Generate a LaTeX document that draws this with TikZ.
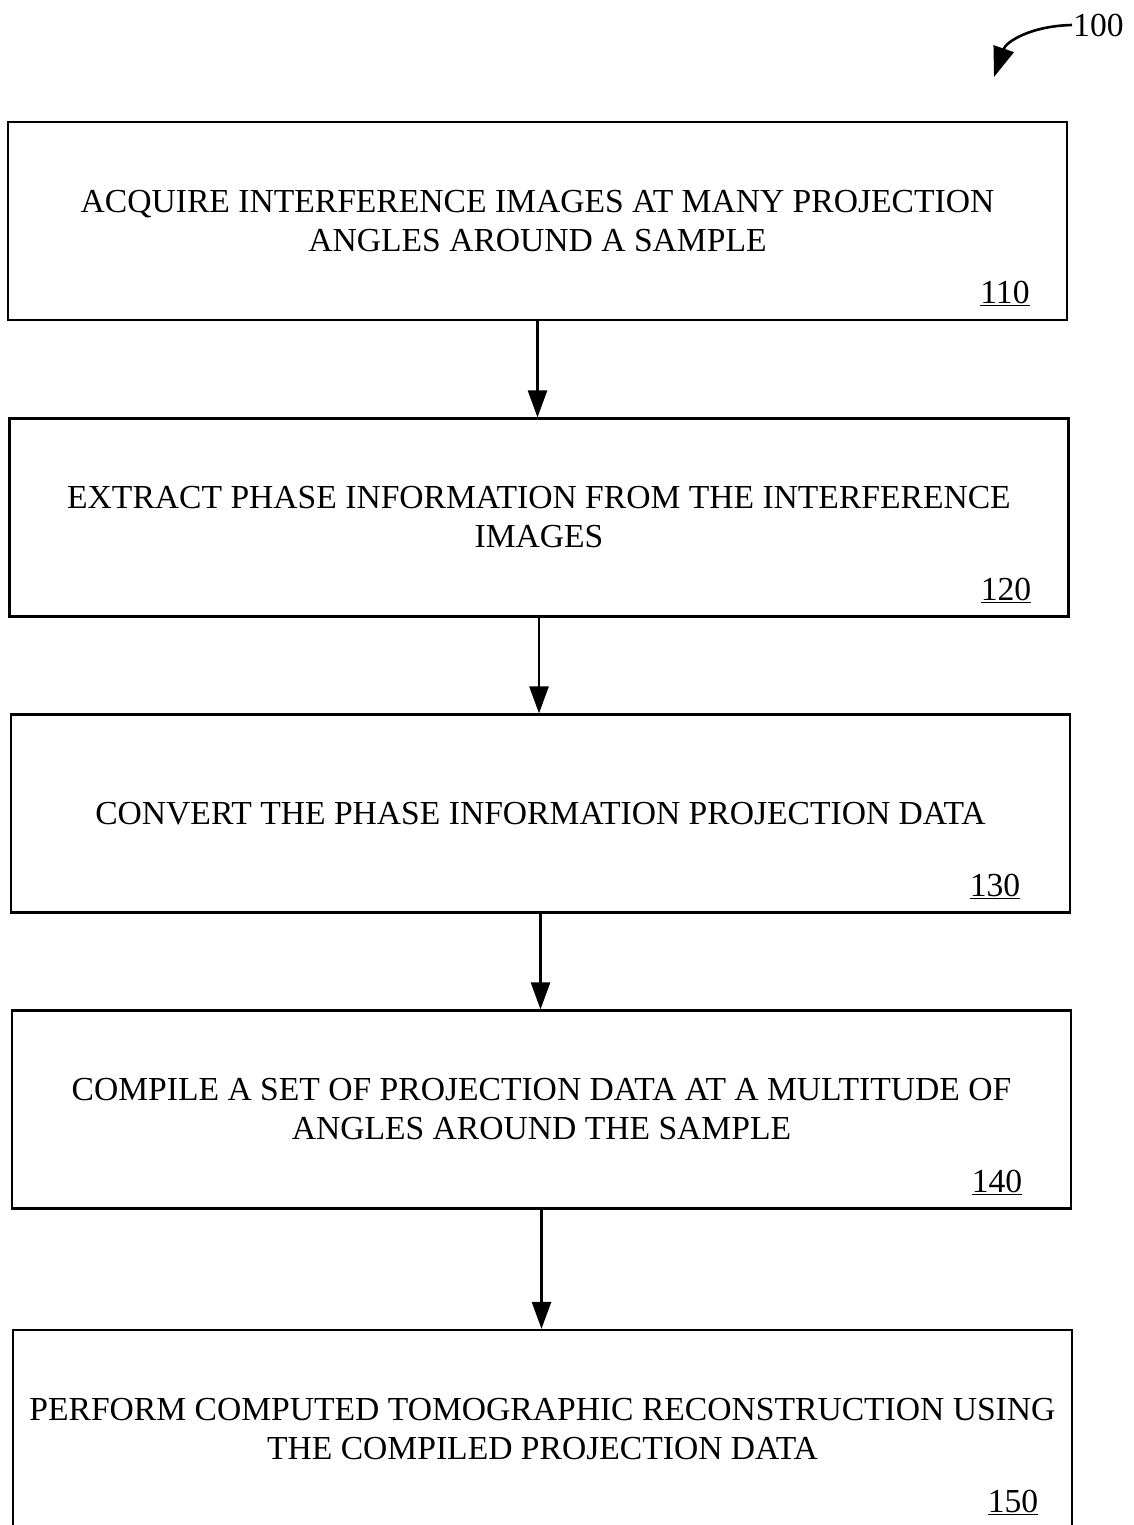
\documentclass[tikz,border=0pt]{standalone}
\usepackage{fontspec}
\setmainfont{Liberation Serif}
\usetikzlibrary{arrows.meta}
\begin{document}
\begin{tikzpicture}[
  x=1pt, y=-1pt,
  stepbox/.style={draw, line width=2.2pt, minimum width=1059pt, minimum height=198pt,
    inner sep=0pt, align=center, font=\fontsize{33.6}{39}\selectfont},
  refnum/.style={font=\fontsize{33.6}{39}\selectfont, inner sep=1pt},
  flow/.style={line width=2.6pt, -{Triangle[width=19pt,length=27pt]}}
]
  \useasboundingbox (0,0) rectangle (1134,1525);
  \clip (0,0) rectangle (1134,1525);

  \node[stepbox] (s110) at (537.5, 221) {ACQUIRE INTERFERENCE IMAGES AT MANY PROJECTION\\ANGLES AROUND A SAMPLE};
  \node[stepbox] (s120) at (539, 517.5) {EXTRACT PHASE INFORMATION FROM THE INTERFERENCE\\IMAGES};
  \node[stepbox] (s130) at (540.5, 813.5) {CONVERT THE PHASE INFORMATION PROJECTION DATA};
  \node[stepbox] (s140) at (541.5, 1109.5) {COMPILE A SET OF PROJECTION DATA AT A MULTITUDE OF\\ANGLES AROUND THE SAMPLE};
  \node[stepbox] (s150) at (542.5, 1429) {PERFORM COMPUTED TOMOGRAPHIC RECONSTRUCTION USING\\THE COMPILED PROJECTION DATA};

  \node[refnum] (n110) at (1005, 293) {\underline{110}};
  \node[refnum] (n120) at (1006, 590) {\underline{120}};
  \node[refnum] (n130) at (995, 886) {\underline{130}};
  \node[refnum] (n140) at (997, 1182) {\underline{140}};
  \node[refnum] (n150) at (1013, 1502) {\underline{150}};

  \draw[flow] (s110.south) -- (s110.south |- s120.north);
  \draw[flow] (s120.south) -- (s120.south |- s130.north);
  \draw[flow] (s130.south) -- (s130.south |- s140.north);
  \draw[flow] (s140.south) -- (s140.south |- s150.north);

  % figure reference
  \node[refnum, anchor=west] (n100) at (1072, 25) {100};
  \coordinate (tip) at (994, 77);
  \draw[line width=2.6pt, -{Triangle[width=21pt,length=30pt]}]
    (n100.west) .. controls (1030, 26) and (1006, 42) .. (tip);
\end{tikzpicture}
\end{document}
